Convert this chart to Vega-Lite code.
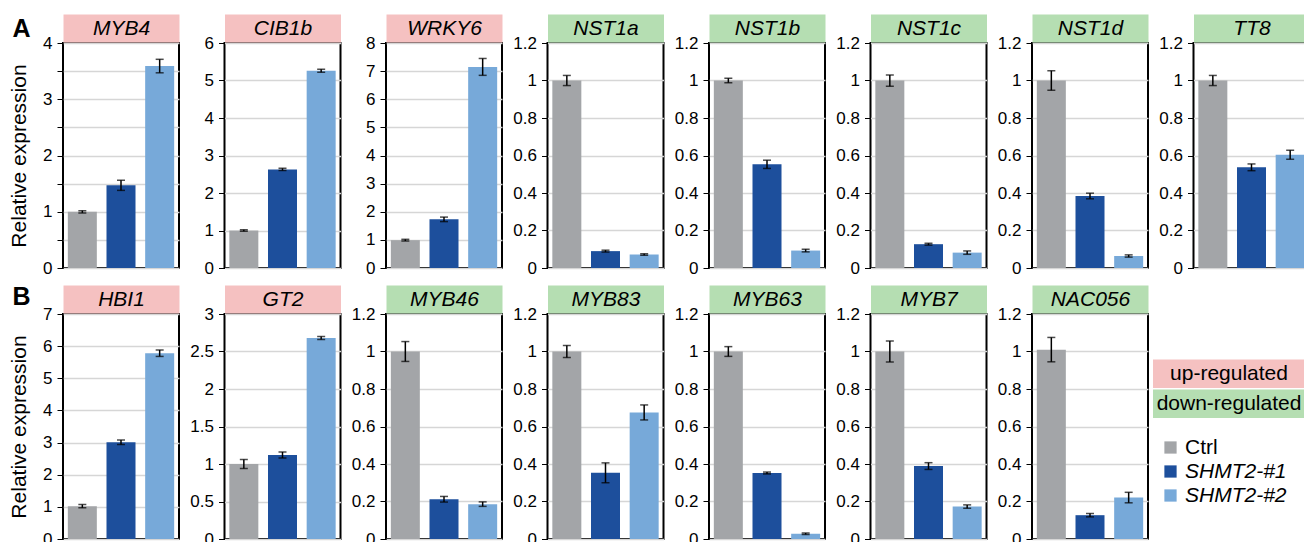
{
  "$schema": "https://vega.github.io/schema/vega-lite/v6.json",
  "background": "white",
  "padding": {"left": 7, "top": 16, "right": 0, "bottom": 0},
  "datasets": {
    "expr": [
      {"gene": "MYB4", "group": "Ctrl", "value": 1.0, "err": 0.02},
      {"gene": "MYB4", "group": "SHMT2-#1", "value": 1.47, "err": 0.09},
      {"gene": "MYB4", "group": "SHMT2-#2", "value": 3.59, "err": 0.12},
      {"gene": "CIB1b", "group": "Ctrl", "value": 1.0, "err": 0.02},
      {"gene": "CIB1b", "group": "SHMT2-#1", "value": 2.63, "err": 0.03},
      {"gene": "CIB1b", "group": "SHMT2-#2", "value": 5.26, "err": 0.04},
      {"gene": "WRKY6", "group": "Ctrl", "value": 0.99, "err": 0.03},
      {"gene": "WRKY6", "group": "SHMT2-#1", "value": 1.73, "err": 0.08},
      {"gene": "WRKY6", "group": "SHMT2-#2", "value": 7.15, "err": 0.3},
      {"gene": "NST1a", "group": "Ctrl", "value": 1.0, "err": 0.027},
      {"gene": "NST1a", "group": "SHMT2-#1", "value": 0.09, "err": 0.005},
      {"gene": "NST1a", "group": "SHMT2-#2", "value": 0.072, "err": 0.004},
      {"gene": "NST1b", "group": "Ctrl", "value": 1.0, "err": 0.012},
      {"gene": "NST1b", "group": "SHMT2-#1", "value": 0.553, "err": 0.022},
      {"gene": "NST1b", "group": "SHMT2-#2", "value": 0.093, "err": 0.007},
      {"gene": "NST1c", "group": "Ctrl", "value": 1.0, "err": 0.03},
      {"gene": "NST1c", "group": "SHMT2-#1", "value": 0.127, "err": 0.005},
      {"gene": "NST1c", "group": "SHMT2-#2", "value": 0.082, "err": 0.009},
      {"gene": "NST1d", "group": "Ctrl", "value": 1.0, "err": 0.052},
      {"gene": "NST1d", "group": "SHMT2-#1", "value": 0.384, "err": 0.015},
      {"gene": "NST1d", "group": "SHMT2-#2", "value": 0.064, "err": 0.006},
      {"gene": "TT8", "group": "Ctrl", "value": 1.0, "err": 0.027},
      {"gene": "TT8", "group": "SHMT2-#1", "value": 0.537, "err": 0.018},
      {"gene": "TT8", "group": "SHMT2-#2", "value": 0.604, "err": 0.024},
      {"gene": "HBI1", "group": "Ctrl", "value": 1.02, "err": 0.05},
      {"gene": "HBI1", "group": "SHMT2-#1", "value": 3.01, "err": 0.07},
      {"gene": "HBI1", "group": "SHMT2-#2", "value": 5.78, "err": 0.1},
      {"gene": "GT2", "group": "Ctrl", "value": 1.0, "err": 0.06},
      {"gene": "GT2", "group": "SHMT2-#1", "value": 1.12, "err": 0.04},
      {"gene": "GT2", "group": "SHMT2-#2", "value": 2.68, "err": 0.02},
      {"gene": "MYB46", "group": "Ctrl", "value": 1.0, "err": 0.053},
      {"gene": "MYB46", "group": "SHMT2-#1", "value": 0.212, "err": 0.015},
      {"gene": "MYB46", "group": "SHMT2-#2", "value": 0.186, "err": 0.012},
      {"gene": "MYB83", "group": "Ctrl", "value": 1.0, "err": 0.032},
      {"gene": "MYB83", "group": "SHMT2-#1", "value": 0.353, "err": 0.053},
      {"gene": "MYB83", "group": "SHMT2-#2", "value": 0.675, "err": 0.04},
      {"gene": "MYB63", "group": "Ctrl", "value": 1.0, "err": 0.026},
      {"gene": "MYB63", "group": "SHMT2-#1", "value": 0.352, "err": 0.005},
      {"gene": "MYB63", "group": "SHMT2-#2", "value": 0.028, "err": 0.004},
      {"gene": "MYB7", "group": "Ctrl", "value": 1.0, "err": 0.056},
      {"gene": "MYB7", "group": "SHMT2-#1", "value": 0.389, "err": 0.018},
      {"gene": "MYB7", "group": "SHMT2-#2", "value": 0.173, "err": 0.009},
      {"gene": "NAC056", "group": "Ctrl", "value": 1.01, "err": 0.065},
      {"gene": "NAC056", "group": "SHMT2-#1", "value": 0.127, "err": 0.009},
      {"gene": "NAC056", "group": "SHMT2-#2", "value": 0.221, "err": 0.028}
    ],
    "keys": [
      {"label": "up-regulated"},
      {"label": "down-regulated"}
    ]
  },
  "data": {"name": "expr"},
  "config": {
    "font": "Liberation Sans",
    "view": {"stroke": "black", "strokeWidth": 2},
    "range": {"category": ["#a3a5a8", "#1d4f9c", "#77a9d9"]},
    "scale": {"bandPaddingInner": 0.25, "bandPaddingOuter": 0.125},
    "axisY": {"domain": false, "tickColor": "black", "tickSize": 6, "tickWidth": 1, "labelFontSize": 17, "labelColor": "black", "labelPadding": 5, "gridColor": "#d6d6d6", "gridWidth": 1.5, "tickCount": 6, "format": "~g", "titleFontSize": 21, "titleFontWeight": "normal", "titleColor": "black", "titlePadding": 13},
    "axisX": {"labels": false, "ticks": false, "grid": false, "domainWidth": 28, "offset": 15, "titleFontSize": 21, "titleFontStyle": "italic", "titleFontWeight": "normal", "titleBaseline": "middle", "titlePadding": 0, "titleColor": "black"},
    "title": {"anchor": "start", "frame": "bounds", "fontSize": 25, "fontWeight": "bold", "offset": 0, "color": "black"}
  },
  "spacing": 8,
  "vconcat": [
    {
      "title": {"text": "A", "dy": 30, "dx": 5},
      "bounds": "flush",
      "spacing": 45.5,
      "hconcat": [
        {"width": 116, "height": 225, "transform": [{"filter": {"field": "gene", "equal": "MYB4"}}],
         "encoding": {"x": {"field": "group", "type": "nominal", "axis": {"orient": "top", "title": "MYB4", "domainColor": "#f5c1c1"}},
                      "y": {"field": "value", "type": "quantitative", "scale": {"domain": [0, 4]}, "axis": {"title": "Relative expression", "labelExpr": "datum.value % 1 ? '' : datum.label"}}},
         "layer": [
           {"mark": "bar", "encoding": {"color": {"field": "group", "type": "nominal", "legend": {"title": null, "orient": "none", "legendX": 1097, "legendY": 394, "symbolType": "square", "symbolSize": 150, "symbolStrokeWidth": 0, "labelFontSize": 21, "labelColor": "black", "rowPadding": 2, "labelOffset": 4, "padding": 0, "labelLimit": 300, "encode": {"labels": {"update": {"fontStyle": {"signal": "datum.label == 'Ctrl' ? 'normal' : 'italic'"}}}}}}}},
           {"mark": {"type": "errorbar", "ticks": true, "size": 8, "thickness": 1.5, "color": "black"}, "encoding": {"yError": {"field": "err"}}}
         ]},
        {"width": 116, "height": 225, "transform": [{"filter": {"field": "gene", "equal": "CIB1b"}}],
         "encoding": {"x": {"field": "group", "type": "nominal", "axis": {"orient": "top", "title": "CIB1b", "domainColor": "#f5c1c1"}},
                      "y": {"field": "value", "type": "quantitative", "scale": {"domain": [0, 6]}, "axis": {"title": null}}},
         "layer": [
           {"mark": "bar", "encoding": {"color": {"field": "group", "type": "nominal", "legend": null}}},
           {"mark": {"type": "errorbar", "ticks": true, "size": 8, "thickness": 1.5, "color": "black"}, "encoding": {"yError": {"field": "err"}}}
         ]},
        {"width": 116, "height": 225, "transform": [{"filter": {"field": "gene", "equal": "WRKY6"}}],
         "encoding": {"x": {"field": "group", "type": "nominal", "axis": {"orient": "top", "title": "WRKY6", "domainColor": "#f5c1c1"}},
                      "y": {"field": "value", "type": "quantitative", "scale": {"domain": [0, 8]}, "axis": {"title": null}}},
         "layer": [
           {"mark": "bar", "encoding": {"color": {"field": "group", "type": "nominal", "legend": null}}},
           {"mark": {"type": "errorbar", "ticks": true, "size": 8, "thickness": 1.5, "color": "black"}, "encoding": {"yError": {"field": "err"}}}
         ]},
        {"width": 116, "height": 225, "transform": [{"filter": {"field": "gene", "equal": "NST1a"}}],
         "encoding": {"x": {"field": "group", "type": "nominal", "axis": {"orient": "top", "title": "NST1a", "domainColor": "#b5deb2"}},
                      "y": {"field": "value", "type": "quantitative", "scale": {"domain": [0, 1.2]}, "axis": {"title": null}}},
         "layer": [
           {"mark": "bar", "encoding": {"color": {"field": "group", "type": "nominal", "legend": null}}},
           {"mark": {"type": "errorbar", "ticks": true, "size": 8, "thickness": 1.5, "color": "black"}, "encoding": {"yError": {"field": "err"}}}
         ]},
        {"width": 116, "height": 225, "transform": [{"filter": {"field": "gene", "equal": "NST1b"}}],
         "encoding": {"x": {"field": "group", "type": "nominal", "axis": {"orient": "top", "title": "NST1b", "domainColor": "#b5deb2"}},
                      "y": {"field": "value", "type": "quantitative", "scale": {"domain": [0, 1.2]}, "axis": {"title": null}}},
         "layer": [
           {"mark": "bar", "encoding": {"color": {"field": "group", "type": "nominal", "legend": null}}},
           {"mark": {"type": "errorbar", "ticks": true, "size": 8, "thickness": 1.5, "color": "black"}, "encoding": {"yError": {"field": "err"}}}
         ]},
        {"width": 116, "height": 225, "transform": [{"filter": {"field": "gene", "equal": "NST1c"}}],
         "encoding": {"x": {"field": "group", "type": "nominal", "axis": {"orient": "top", "title": "NST1c", "domainColor": "#b5deb2"}},
                      "y": {"field": "value", "type": "quantitative", "scale": {"domain": [0, 1.2]}, "axis": {"title": null}}},
         "layer": [
           {"mark": "bar", "encoding": {"color": {"field": "group", "type": "nominal", "legend": null}}},
           {"mark": {"type": "errorbar", "ticks": true, "size": 8, "thickness": 1.5, "color": "black"}, "encoding": {"yError": {"field": "err"}}}
         ]},
        {"width": 116, "height": 225, "transform": [{"filter": {"field": "gene", "equal": "NST1d"}}],
         "encoding": {"x": {"field": "group", "type": "nominal", "axis": {"orient": "top", "title": "NST1d", "domainColor": "#b5deb2"}},
                      "y": {"field": "value", "type": "quantitative", "scale": {"domain": [0, 1.2]}, "axis": {"title": null}}},
         "layer": [
           {"mark": "bar", "encoding": {"color": {"field": "group", "type": "nominal", "legend": null}}},
           {"mark": {"type": "errorbar", "ticks": true, "size": 8, "thickness": 1.5, "color": "black"}, "encoding": {"yError": {"field": "err"}}}
         ]},
        {"width": 116, "height": 225, "transform": [{"filter": {"field": "gene", "equal": "TT8"}}],
         "encoding": {"x": {"field": "group", "type": "nominal", "axis": {"orient": "top", "title": "TT8", "domainColor": "#b5deb2"}},
                      "y": {"field": "value", "type": "quantitative", "scale": {"domain": [0, 1.2]}, "axis": {"title": null}}},
         "layer": [
           {"mark": "bar", "encoding": {"color": {"field": "group", "type": "nominal", "legend": null}}},
           {"mark": {"type": "errorbar", "ticks": true, "size": 8, "thickness": 1.5, "color": "black"}, "encoding": {"yError": {"field": "err"}}}
         ]}
      ]
    },
    {
      "title": {"text": "B", "dy": 27, "dx": 5},
      "bounds": "full",
      "spacing": 4,
      "hconcat": [
        {
          "bounds": "flush",
          "spacing": 45.5,
          "hconcat": [
            {"width": 116, "height": 225, "transform": [{"filter": {"field": "gene", "equal": "HBI1"}}],
             "encoding": {"x": {"field": "group", "type": "nominal", "axis": {"orient": "top", "title": "HBI1", "domainColor": "#f5c1c1"}},
                          "y": {"field": "value", "type": "quantitative", "scale": {"domain": [0, 7]}, "axis": {"title": "Relative expression"}}},
             "layer": [
               {"mark": "bar", "encoding": {"color": {"field": "group", "type": "nominal", "legend": null}}},
               {"mark": {"type": "errorbar", "ticks": true, "size": 8, "thickness": 1.5, "color": "black"}, "encoding": {"yError": {"field": "err"}}}
             ]},
            {"width": 116, "height": 225, "transform": [{"filter": {"field": "gene", "equal": "GT2"}}],
             "encoding": {"x": {"field": "group", "type": "nominal", "axis": {"orient": "top", "title": "GT2", "domainColor": "#f5c1c1"}},
                          "y": {"field": "value", "type": "quantitative", "scale": {"domain": [0, 3]}, "axis": {"title": null}}},
             "layer": [
               {"mark": "bar", "encoding": {"color": {"field": "group", "type": "nominal", "legend": null}}},
               {"mark": {"type": "errorbar", "ticks": true, "size": 8, "thickness": 1.5, "color": "black"}, "encoding": {"yError": {"field": "err"}}}
             ]},
            {"width": 116, "height": 225, "transform": [{"filter": {"field": "gene", "equal": "MYB46"}}],
             "encoding": {"x": {"field": "group", "type": "nominal", "axis": {"orient": "top", "title": "MYB46", "domainColor": "#b5deb2"}},
                          "y": {"field": "value", "type": "quantitative", "scale": {"domain": [0, 1.2]}, "axis": {"title": null}}},
             "layer": [
               {"mark": "bar", "encoding": {"color": {"field": "group", "type": "nominal", "legend": null}}},
               {"mark": {"type": "errorbar", "ticks": true, "size": 8, "thickness": 1.5, "color": "black"}, "encoding": {"yError": {"field": "err"}}}
             ]},
            {"width": 116, "height": 225, "transform": [{"filter": {"field": "gene", "equal": "MYB83"}}],
             "encoding": {"x": {"field": "group", "type": "nominal", "axis": {"orient": "top", "title": "MYB83", "domainColor": "#b5deb2"}},
                          "y": {"field": "value", "type": "quantitative", "scale": {"domain": [0, 1.2]}, "axis": {"title": null}}},
             "layer": [
               {"mark": "bar", "encoding": {"color": {"field": "group", "type": "nominal", "legend": null}}},
               {"mark": {"type": "errorbar", "ticks": true, "size": 8, "thickness": 1.5, "color": "black"}, "encoding": {"yError": {"field": "err"}}}
             ]},
            {"width": 116, "height": 225, "transform": [{"filter": {"field": "gene", "equal": "MYB63"}}],
             "encoding": {"x": {"field": "group", "type": "nominal", "axis": {"orient": "top", "title": "MYB63", "domainColor": "#b5deb2"}},
                          "y": {"field": "value", "type": "quantitative", "scale": {"domain": [0, 1.2]}, "axis": {"title": null}}},
             "layer": [
               {"mark": "bar", "encoding": {"color": {"field": "group", "type": "nominal", "legend": null}}},
               {"mark": {"type": "errorbar", "ticks": true, "size": 8, "thickness": 1.5, "color": "black"}, "encoding": {"yError": {"field": "err"}}}
             ]},
            {"width": 116, "height": 225, "transform": [{"filter": {"field": "gene", "equal": "MYB7"}}],
             "encoding": {"x": {"field": "group", "type": "nominal", "axis": {"orient": "top", "title": "MYB7", "domainColor": "#b5deb2"}},
                          "y": {"field": "value", "type": "quantitative", "scale": {"domain": [0, 1.2]}, "axis": {"title": null}}},
             "layer": [
               {"mark": "bar", "encoding": {"color": {"field": "group", "type": "nominal", "legend": null}}},
               {"mark": {"type": "errorbar", "ticks": true, "size": 8, "thickness": 1.5, "color": "black"}, "encoding": {"yError": {"field": "err"}}}
             ]},
            {"width": 116, "height": 225, "transform": [{"filter": {"field": "gene", "equal": "NAC056"}}],
             "encoding": {"x": {"field": "group", "type": "nominal", "axis": {"orient": "top", "title": "NAC056", "domainColor": "#b5deb2"}},
                          "y": {"field": "value", "type": "quantitative", "scale": {"domain": [0, 1.2]}, "axis": {"title": null}}},
             "layer": [
               {"mark": "bar", "encoding": {"color": {"field": "group", "type": "nominal", "legend": null}}},
               {"mark": {"type": "errorbar", "ticks": true, "size": 8, "thickness": 1.5, "color": "black"}, "encoding": {"yError": {"field": "err"}}}
             ]}
          ]
        },
        {
          "width": 152, "height": 104,
          "view": {"stroke": null},
          "data": {"name": "keys"},
          "encoding": {"y": {"field": "label", "type": "nominal", "sort": null, "axis": null, "scale": {"paddingInner": 0.05, "paddingOuter": 0.76, "align": 1}}},
          "layer": [
            {"mark": "rect", "encoding": {"fill": {"field": "label", "type": "nominal", "scale": {"domain": ["up-regulated", "down-regulated"], "range": ["#f5c1c1", "#b5deb2"]}, "legend": null}}},
            {"mark": {"type": "text", "fontSize": 21, "color": "black"}, "encoding": {"text": {"field": "label", "type": "nominal"}}}
          ]
        }
      ]
    }
  ]
}
